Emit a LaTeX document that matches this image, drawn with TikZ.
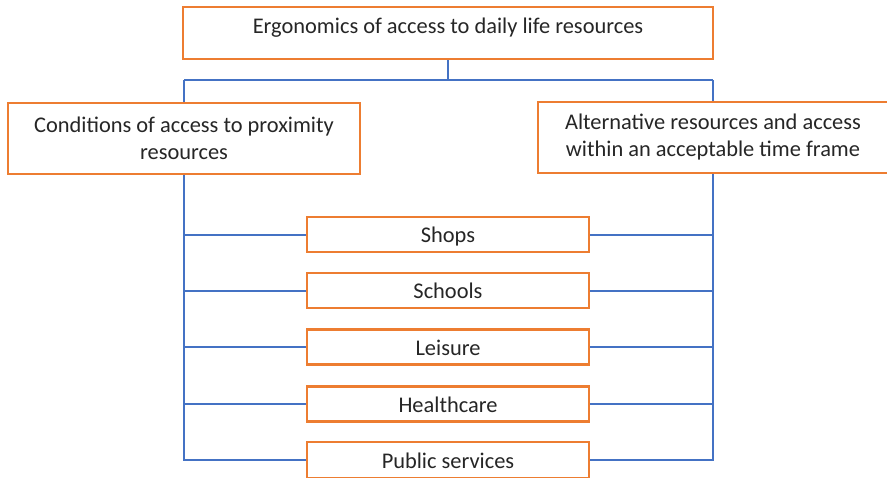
\documentclass[tikz,border=0pt]{standalone}
\usepackage{fontspec}
\setmainfont{Carlito}
\usetikzlibrary{backgrounds}
\definecolor{boxorange}{HTML}{ED7D31}
\definecolor{lineblue}{HTML}{4472C4}
\begin{document}
\begin{tikzpicture}[x=1pt,y=-1pt,
  box/.style={draw=boxorange, line width=2.5pt, fill=white, rectangle, inner sep=0pt,
    align=center, text=black!85, font=\fontsize{22.4}{27}\selectfont},
  itembox/.style={box, minimum width=282pt, minimum height=35pt, text height=20pt, text depth=4pt},
  link/.style={draw=lineblue, line width=2pt}]
\useasboundingbox (0,0) rectangle (887,477);
\node[box, minimum width=530pt, minimum height=52pt, text height=15pt, text depth=15pt] (top) at (448,33) {Ergonomics of access to daily life resources};
\node[box, minimum width=352pt, minimum height=71pt] (left) at (184,138.5) {Conditions of access to proximity\\resources};
\node[box, minimum width=350pt, minimum height=71pt] (right) at (713,137.5) {Alternative resources and access\\within an acceptable time frame};
\node[itembox] (shops) at (448,234.5) {Shops};
\node[itembox] (schools) at (448,290.5) {Schools};
\node[itembox] (leisure) at (448,347) {Leisure};
\node[itembox] (health) at (448,404) {Healthcare};
\node[itembox, minimum height=36pt] (pub) at (448,460) {Public services};
\coordinate (jt) at (448,80);
\coordinate (jl) at (184,80);
\coordinate (jr) at (713,80);
\coordinate (bl) at (184,460);
\coordinate (br) at (713,460);
\begin{pgfonlayer}{background}
\fill[white] (0,0) rectangle (887,477);
\path[link] (top.south) -- (jt);
\path[link] (jl) -- (jr);
\path[link] (jl) -- (left.north);
\path[link] (jr) -- (right.north);
\path[link] (left.south) -- (bl) -- (pub.west);
\path[link] (right.south) -- (br) -- (pub.east);
\foreach \n in {shops,schools,leisure,health}{
  \path[link] (bl |- \n.west) -- (\n.west);
  \path[link] (br |- \n.east) -- (\n.east);
}
\end{pgfonlayer}
\end{tikzpicture}
\end{document}
